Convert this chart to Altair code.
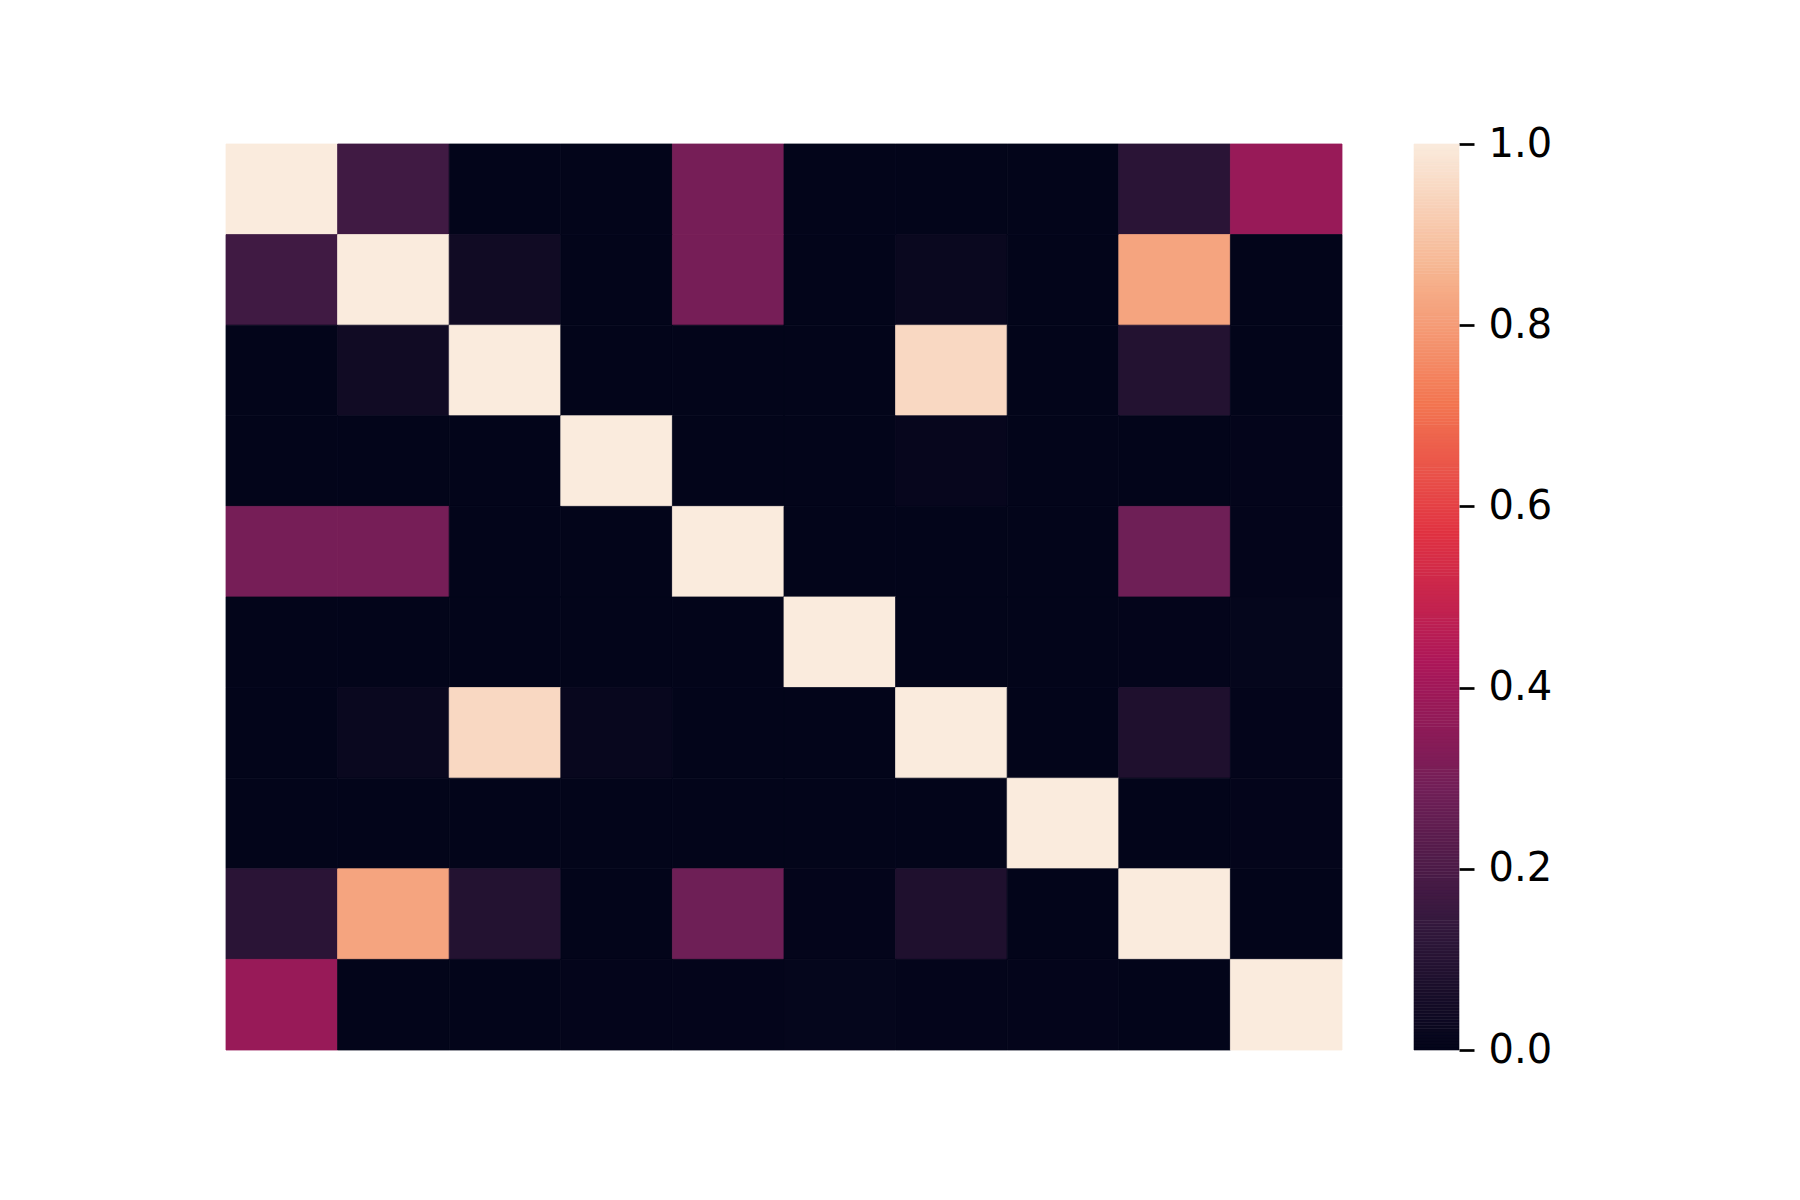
import altair as alt
import pandas as pd
import numpy as np

labels = [str(i) for i in range(10)]
matrix = [
    [1.00, 0.17, 0.00, 0.00, 0.30, 0.00, 0.00, 0.00, 0.11, 0.38],
    [0.17, 1.00, 0.04, 0.00, 0.30, 0.00, 0.02, 0.00, 0.82, 0.00],
    [0.00, 0.04, 1.00, 0.00, 0.00, 0.00, 0.95, 0.00, 0.09, 0.00],
    [0.00, 0.00, 0.00, 1.00, 0.00, 0.00, 0.01, 0.00, 0.00, 0.003],
    [0.30, 0.30, 0.00, 0.00, 1.00, 0.00, 0.00, 0.00, 0.28, 0.003],
    [0.00, 0.00, 0.00, 0.00, 0.00, 1.00, 0.00, 0.00, 0.003, 0.006],
    [0.00, 0.02, 0.95, 0.015, 0.00, 0.00, 1.00, 0.00, 0.08, 0.003],
    [0.00, 0.00, 0.00, 0.00, 0.00, 0.00, 0.00, 1.00, 0.00, 0.003],
    [0.11, 0.82, 0.09, 0.00, 0.28, 0.003, 0.08, 0.00, 1.00, 0.00],
    [0.38, 0.00, 0.00, 0.003, 0.003, 0.006, 0.003, 0.003, 0.00, 1.00],
]
cbar_ticks = [0.0, 0.2, 0.4, 0.6, 0.8, 1.0]

# rocket colormap stops
stops = [0, 1/7, 2/7, 3/7, 4/7, 5/7, 6/7, 1]
rocket = ["#03051a", "#35193e", "#701f57", "#ad1759", "#e13342", "#f37651", "#f6b48f", "#faebdd"]

rows = []
for i, r in enumerate(labels):
    for j, c in enumerate(labels):
        rows.append({"row": r, "col": c, "value": matrix[i][j]})
df = pd.DataFrame(rows)

color_scale = alt.Scale(domain=stops, range=rocket, interpolate="rgb", clamp=True)

heat = alt.Chart(df).mark_rect(strokeWidth=0.8).encode(
    x=alt.X("col:N", sort=labels, axis=None, scale=alt.Scale(paddingInner=0, paddingOuter=0)),
    y=alt.Y("row:N", sort=labels, axis=None, scale=alt.Scale(paddingInner=0, paddingOuter=0)),
    color=alt.Color("value:Q", scale=color_scale, legend=None),
    stroke=alt.Color("value:Q", scale=color_scale, legend=None),
).properties(width=1116, height=906)

n = 300
edges = np.linspace(0, 1, n + 1)
cb = pd.DataFrame({"v0": edges[:-1], "v1": edges[1:], "mid": (edges[:-1] + edges[1:]) / 2})

cbar = alt.Chart(cb).mark_rect(strokeWidth=0.6).encode(
    y=alt.Y("v0:Q", scale=alt.Scale(domain=[0, 1], nice=False),
            axis=alt.Axis(orient="right", values=cbar_ticks, format=".1f", title=None,
                          domain=False, grid=False, tickSize=15, tickWidth=2.7,
                          tickColor="black", labelFontSize=40, labelFont="DejaVu Sans",
                          labelColor="black", labelPadding=14)),
    y2="v1:Q",
    x=alt.value(0),
    x2=alt.value(45),
    color=alt.Color("mid:Q", scale=color_scale, legend=None),
    stroke=alt.Color("mid:Q", scale=color_scale, legend=None),
).properties(width=45, height=906)

chart = alt.hconcat(heat, cbar, spacing=70).properties(
    padding={"left": 225, "top": 124, "right": 20, "bottom": 20},
    autosize=alt.AutoSizeParams(type="pad"),
    background="white",
).configure_view(stroke=None).resolve_scale(color="shared")

chart.save("out.html", embed_options={"renderer": "svg", "actions": False})
